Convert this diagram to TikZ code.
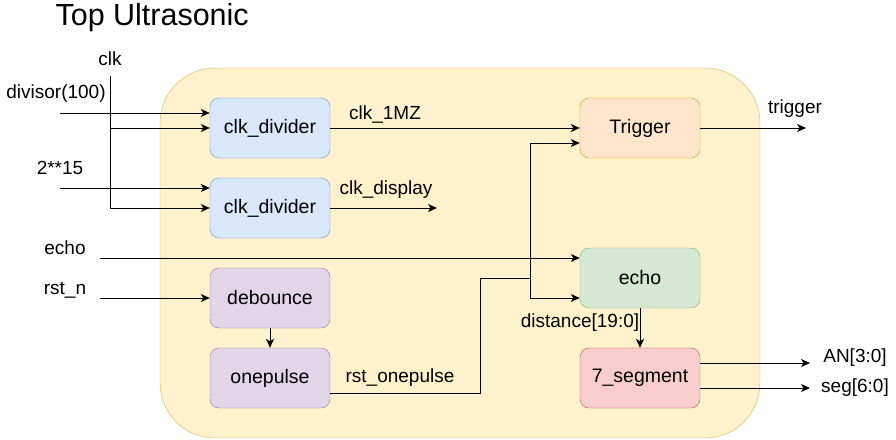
\documentclass[tikz,border=0pt]{standalone}
\usepackage{fontspec}
\setmainfont{Liberation Sans}
\usetikzlibrary{arrows.meta}
\definecolor{topfill}{HTML}{FFF2CC}
\definecolor{topdraw}{HTML}{D6B656}
\definecolor{bluefill}{HTML}{DAE8FC}
\definecolor{bluedraw}{HTML}{6C8EBF}
\definecolor{purplefill}{HTML}{E1D5E7}
\definecolor{purpledraw}{HTML}{9673A6}
\definecolor{orangefill}{HTML}{FFE6CC}
\definecolor{orangedraw}{HTML}{D79B00}
\definecolor{greenfill}{HTML}{D5E8D4}
\definecolor{greendraw}{HTML}{82B366}
\definecolor{redfill}{HTML}{F8CECC}
\definecolor{reddraw}{HTML}{B85450}

\begin{document}
\begin{tikzpicture}[x=1pt,y=-1pt,
	block/.style={draw, rounded corners=9pt, minimum width=120pt, minimum height=60pt, font=\fontsize{19.5}{22}\selectfont},
	lbl/.style={font=\fontsize{19}{22}\selectfont},
	wire/.style={line width=1pt},
	arrowwire/.style={wire, -{Stealth[length=9pt, width=8pt, inset=2.5pt]}}]
				\useasboundingbox (0,0) rectangle (896,439);
				\node[font=\fontsize{30.5}{34}\selectfont, anchor=west] (title) at (52,18) {Top Ultrasonic};
				\draw[fill=topfill, draw=topdraw, rounded corners=55pt] (160,68) rectangle (760,438);
				% blocks
				\node[block, fill=bluefill, draw=bluedraw] (div1) at (270,128) {clk\_divider};
				\node[block, fill=bluefill, draw=bluedraw] (div2) at (270,208) {clk\_divider};
				\node[block, fill=purplefill, draw=purpledraw] (deb) at (270,298) {debounce};
				\node[block, fill=purplefill, draw=purpledraw] (onep) at (270,378) {onepulse};
				\node[block, fill=orangefill, draw=orangedraw] (trig) at (640,128) {Trigger};
				\node[block, fill=greenfill, draw=greendraw] (echo) at (640,278) {echo};
				\node[block, fill=redfill, draw=reddraw] (seg) at (640,378) {7\_segment};
				% labels
				\foreach \txt/\x/\y [count = \i] in {clk/110/59, divisor(100)/56/94, 2**15/60/168, echo/65/248, rst\_n/65/290,
					clk\_1MZ/385/115, clk\_display/386/190, rst\_onepulse/400/378, distance[19:0]/580/323,
					trigger/795/109, AN[3:0]/855/358, seg[6:0]/855/388}
				{
					\node[lbl] (lbl\i) at (\x,\y) {\txt};
				}
				% free ends
				\coordinate (clktop) at (110,76);
				\coordinate (divin) at (60,113);
				\coordinate (powin) at (60,188);
				\coordinate (echoin) at (100,258);
				\coordinate (rstin) at (100,298);
				\coordinate (dispout) at (437,208);
				\coordinate (trigout) at (806,128);
				\coordinate (anout) at (810,363);
				\coordinate (segout) at (810,388);
				\coordinate (rstbend) at (480,278);
				\coordinate (jn) at (530,278);
				% connectors
				\draw[arrowwire] (divin) -- ([yshift=15pt]div1.west);
				\draw[arrowwire] (powin) -- ([yshift=20pt]div2.west);
				\draw[arrowwire] (clktop) |- (div2.west);
				\draw[arrowwire] (clktop |- div1.west) -- (div1.west);
				\draw[arrowwire] (div1.east) -- (trig.west);
				\draw[arrowwire] (div2.east) -- (dispout);
				\draw[arrowwire] (echoin) -- ([yshift=20pt]echo.west);
				\draw[arrowwire] (rstin) -- (deb.west);
				\draw[arrowwire] (deb.south) -- (onep.north);
				\draw[wire] ([yshift=-15pt]onep.east) -| (rstbend) -- (jn);
				\draw[arrowwire] (jn) |- ([yshift=-15pt]trig.west);
				\draw[arrowwire] (jn) |- ([yshift=-20pt]echo.west);
				\draw[arrowwire] (echo.south) -- (seg.north);
				\draw[arrowwire] (trig.east) -- (trigout);
				\draw[arrowwire] ([yshift=15pt]seg.east) -- (anout);
				\draw[arrowwire] ([yshift=-10pt]seg.east) -- (segout);
			\end{tikzpicture}
\end{document}
